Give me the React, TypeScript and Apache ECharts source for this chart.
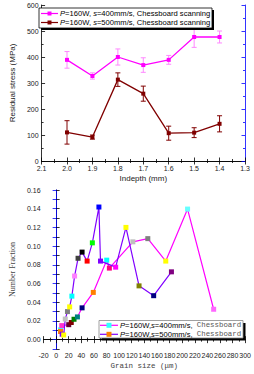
import React, { useEffect, useRef } from "react";
import * as echarts from "echarts";

// ---------- Top chart data ----------
const depth = [2.0, 1.9, 1.8, 1.7, 1.6, 1.5, 1.4];
const stress400 = [389, 327, 400, 369, 389, 477, 477];
const err400 = [32, 12, 31, 28, 17, 40, 23];
const stress500 = [110, 92, 313, 259, 107, 109, 143];
const err500 = [45, 8, 26, 29, 27, 19, 31];

// ---------- Bottom chart data ----------
const grain400 = [7, 9, 20, 24, 28.4, 33.8, 41.2, 59, 80.3, 84.5, 121.8, 145.5, 174, 208.6, 250];
const frac400 = [0.0105, 0.015, 0.016, 0.0183, 0.0218, 0.0243, 0.034, 0.0505, 0.085, 0.0765, 0.1046, 0.108, 0.084, 0.1396, 0.0325];
const grain500 = [7, 9.6, 12, 14.5, 18, 21.5, 25, 29.3, 34.8, 41.2, 49.2, 57.5, 67.9, 70.4, 94.5, 110.8, 131.6, 154.8, 183];
const frac500 = [0.0087, 0.0058, 0.005, 0.022, 0.03, 0.035, 0.0465, 0.068, 0.087, 0.0936, 0.084, 0.1035, 0.1418, 0.084, 0.0775, 0.12, 0.0575, 0.047, 0.0725];

// marker colours (style)
const colors400 = ["#33ffff", "#ff33cc", "#660033", "#800000", "#008000", "#008080", "#000080", "#ff8000", "#00ffff", "#ff0080", "#c0c0c0", "#808080", "#ffff00", "#66ffff", "#ff66ff"];
const colors500 = ["#ff8000", "#8000ff", "#ffff00", "#c0c0c0", "#808080", "#ffff00", "#00ffff", "#ff80ff", "#404040", "#000000", "#ff0000", "#00ff00", "#0000ff", "#8000ff", "#ff00ff", "#ffff00", "#808000", "#000080", "#800080"];

const SANS = "Liberation Sans, Arial, sans-serif";
const MONO = "Liberation Mono, DejaVu Sans Mono, monospace";
const SERIF = "Liberation Serif, DejaVu Serif, serif";

function errRender(color: string) {
  return (params: any, api: any) => {
    const x = api.value(0);
    const y = api.value(1);
    const e = api.value(2);
    const top = api.coord([x, y + e]);
    const bot = api.coord([x, y - e]);
    const hw = 2.5;
    const style = { stroke: color, lineWidth: 1 };
    return {
      type: "group",
      children: [
        { type: "line", shape: { x1: top[0], y1: top[1], x2: bot[0], y2: bot[1] }, style },
        { type: "line", shape: { x1: top[0] - hw, y1: top[1], x2: top[0] + hw, y2: top[1] }, style },
        { type: "line", shape: { x1: bot[0] - hw, y1: bot[1], x2: bot[0] + hw, y2: bot[1] }, style },
      ],
    };
  };
}

export default function App() {
  const ref = useRef<HTMLDivElement>(null);
  useEffect(() => {
    if (!ref.current) return;
    const chart = echarts.init(ref.current, null, { renderer: "svg" });
    const axisLabelStyle = { fontSize: 7, fontFamily: SANS, color: "#222" };
    const tick = { show: true, inside: true, length: 3.5, lineStyle: { color: "#000", width: 0.8 } };
    const minor = { show: true, splitNumber: 2, length: 2, lineStyle: { color: "#000", width: 0.8 } };
    const blueTick = { show: true, inside: true, length: 3.5, lineStyle: { color: "#0000ff", width: 0.8 } };
    const blueMinor = { show: true, splitNumber: 2, length: 2, lineStyle: { color: "#0000ff", width: 0.8 } };

    const legendText = (s: string) => ({
      text: `{i|P}=160W, {i|s}=${s}mm/s, Chessboard scanning`,
      rich: { i: { fontStyle: "italic", fontSize: 7.6, fontFamily: SANS } },
      fontSize: 7.6, fontFamily: SANS, fill: "#000", verticalAlign: "middle",
    });
    const legendText2 = (s: string) => ({
      text: `{i|P}=160W,{i|s}=${s}mm/s,  {m|Chessboard}`,
      rich: {
        i: { fontStyle: "italic", fontSize: 7.6, fontFamily: SANS },
        m: { fontSize: 7.4, fontFamily: MONO, fill: "#555" },
      },
      fontSize: 7.6, fontFamily: SANS, fill: "#000", verticalAlign: "middle",
    });

    const option: any = {
      animation: false,
      backgroundColor: "#fff",
      grid: [
        { left: 31, right: 9, top: 5, height: 156, containLabel: false },
        { left: 31, right: 7, top: 190, height: 159, containLabel: false },
      ],
      xAxis: [
        {
          gridIndex: 0, type: "value", min: 1.3, max: 2.1, interval: 0.1, inverse: true,
          axisLine: { lineStyle: { color: "#000", width: 0.8 } }, axisTick: tick, minorTick: minor,
          splitLine: { show: false },
          axisLabel: { ...axisLabelStyle, margin: 3.5, formatter: (v: number) => v.toFixed(1) },
          name: "Indepth (mm)", nameLocation: "middle", nameGap: 13,
          nameTextStyle: { fontSize: 8, fontFamily: SANS, color: "#222" },
        },
        {
          gridIndex: 0, type: "value", min: 1.3, max: 2.1, interval: 0.1, inverse: true, position: "top",
          axisLine: { lineStyle: { color: "#000", width: 0.8 } }, axisTick: tick, minorTick: minor,
          splitLine: { show: false }, axisLabel: { show: false },
        },
        {
          gridIndex: 1, type: "value", min: -20, max: 300, interval: 20,
          axisLine: { lineStyle: { color: "#000", width: 0.8 } }, axisTick: tick, minorTick: minor,
          splitLine: { show: false },
          axisLabel: { ...axisLabelStyle, margin: 3 },
          name: "Grain size (μm)", nameLocation: "middle", nameGap: 13,
          nameTextStyle: { fontSize: 7.5, fontFamily: MONO, color: "#444" },
        },
        {
          gridIndex: 1, type: "value", min: -20, max: 300, interval: 20, position: "top",
          axisLine: { lineStyle: { color: "#000", width: 0.8 } }, axisTick: tick, minorTick: minor,
          splitLine: { show: false }, axisLabel: { show: false },
        },
      ],
      yAxis: [
        {
          gridIndex: 0, type: "value", min: 0, max: 600, interval: 100,
          axisLine: { show: true, lineStyle: { color: "#000", width: 0.8 } }, axisTick: tick, minorTick: minor,
          splitLine: { show: false },
          axisLabel: { ...axisLabelStyle, margin: 3 },
          name: "Residual stress (MPa)", nameLocation: "middle", nameGap: 21,
          nameTextStyle: { fontSize: 8, fontFamily: SANS, color: "#222" },
        },
        {
          gridIndex: 0, type: "value", min: 0, max: 600, interval: 100, position: "right",
          axisLine: { show: true, lineStyle: { color: "#0000ff", width: 0.8 } }, axisTick: blueTick, minorTick: blueMinor,
          splitLine: { show: false }, axisLabel: { show: false },
        },
        {
          gridIndex: 1, type: "value", min: -0.01, max: 0.16, interval: 0.01,
          axisLine: { show: true, lineStyle: { color: "#000", width: 0.8 } }, axisTick: tick,
          splitLine: { show: false },
          axisLabel: {
            ...axisLabelStyle, margin: 3,
            formatter: (v: number) => {
              const k = Math.round(v * 100);
              return k >= 0 && k % 2 === 0 ? (k / 100).toFixed(2) : "";
            },
          },
          name: "Number Fraction", nameLocation: "middle", nameGap: 23,
          nameTextStyle: { fontSize: 8, fontFamily: SERIF, color: "#444" },
        },
        {
          gridIndex: 1, type: "value", min: -0.01, max: 0.16, interval: 0.01, position: "right",
          axisLine: { show: true, lineStyle: { color: "#0000ff", width: 0.8 } }, axisTick: blueTick,
          splitLine: { show: false }, axisLabel: { show: false },
        },
      ],
      series: [
        {
          type: "custom", xAxisIndex: 0, yAxisIndex: 0, z: 1,
          renderItem: errRender("#ff88ff"),
          data: depth.map((d, i) => [d, stress400[i], err400[i]]),
        },
        {
          type: "custom", xAxisIndex: 0, yAxisIndex: 0, z: 1,
          renderItem: errRender("#800000"),
          data: depth.map((d, i) => [d, stress500[i], err500[i]]),
        },
        {
          type: "line", xAxisIndex: 0, yAxisIndex: 0, z: 3,
          symbol: "rect", symbolSize: 4,
          lineStyle: { color: "#ff00ff", width: 1.3 },
          itemStyle: { color: "#ff00ff" },
          data: depth.map((d, i) => [d, stress400[i]]),
        },
        {
          type: "line", xAxisIndex: 0, yAxisIndex: 0, z: 3,
          symbol: "rect", symbolSize: 4,
          lineStyle: { color: "#800000", width: 1.3 },
          itemStyle: { color: "#800000" },
          data: depth.map((d, i) => [d, stress500[i]]),
        },
        {
          type: "line", xAxisIndex: 2, yAxisIndex: 2, z: 3,
          symbol: "rect", symbolSize: 5,
          lineStyle: { color: "#ff00ff", width: 1.2 },
          data: grain400.map((g, i) => ({ value: [g, frac400[i]], itemStyle: { color: colors400[i] } })),
        },
        {
          type: "line", xAxisIndex: 2, yAxisIndex: 2, z: 4,
          symbol: "rect", symbolSize: 5,
          lineStyle: { color: "#8000ff", width: 1.2 },
          data: grain500.map((g, i) => ({ value: [g, frac500[i]], itemStyle: { color: colors500[i] } })),
        },
      ],
      graphic: [
        // top legend
        { type: "rect", z: 10, shape: { x: 41, y: 10, width: 173, height: 20 }, style: { fill: "#000" } },
        { type: "rect", z: 11, shape: { x: 39, y: 8, width: 173, height: 20 }, style: { fill: "#fff", stroke: "#000", lineWidth: 0.8 } },
        { type: "line", z: 12, shape: { x1: 41, y1: 13.5, x2: 58, y2: 13.5 }, style: { stroke: "#ff00ff", lineWidth: 1.2 } },
        { type: "rect", z: 12, shape: { x: 47.5, y: 11.5, width: 4, height: 4 }, style: { fill: "#ff00ff" } },
        { type: "text", z: 12, x: 60, y: 13.5, style: legendText("400") },
        { type: "line", z: 12, shape: { x1: 41, y1: 22.5, x2: 58, y2: 22.5 }, style: { stroke: "#800000", lineWidth: 1.2 } },
        { type: "rect", z: 12, shape: { x: 47.5, y: 20.5, width: 4, height: 4 }, style: { fill: "#800000" } },
        { type: "text", z: 12, x: 60, y: 22.5, style: legendText("500") },
        // bottom legend
        { type: "rect", z: 10, shape: { x: 101.5, y: 323, width: 144, height: 17.5 }, style: { fill: "#000" } },
        { type: "rect", z: 11, shape: { x: 99, y: 320.5, width: 144, height: 17.5 }, style: { fill: "#fff", stroke: "#888", lineWidth: 0.8 } },
        { type: "line", z: 12, shape: { x1: 100, y1: 325.3, x2: 118, y2: 325.3 }, style: { stroke: "#ff00ff", lineWidth: 1.2 } },
        { type: "rect", z: 12, shape: { x: 106.5, y: 322.8, width: 5, height: 5 }, style: { fill: "#33ffff" } },
        { type: "text", z: 12, x: 120, y: 325.3, style: legendText2("400") },
        { type: "line", z: 12, shape: { x1: 100, y1: 334.3, x2: 118, y2: 334.3 }, style: { stroke: "#8000ff", lineWidth: 1.2 } },
        { type: "rect", z: 12, shape: { x: 106.5, y: 331.8, width: 5, height: 5 }, style: { fill: "#ff8000" } },
        { type: "text", z: 12, x: 120, y: 334.3, style: legendText2("500") },
      ],
    };
    chart.setOption(option);
    return () => chart.dispose();
  }, []);
  return (
    <div
      ref={ref}
      style={{ position: "fixed", left: 0, top: 0, width: 254, height: 374, background: "#fff" }}
    />
  );
}
